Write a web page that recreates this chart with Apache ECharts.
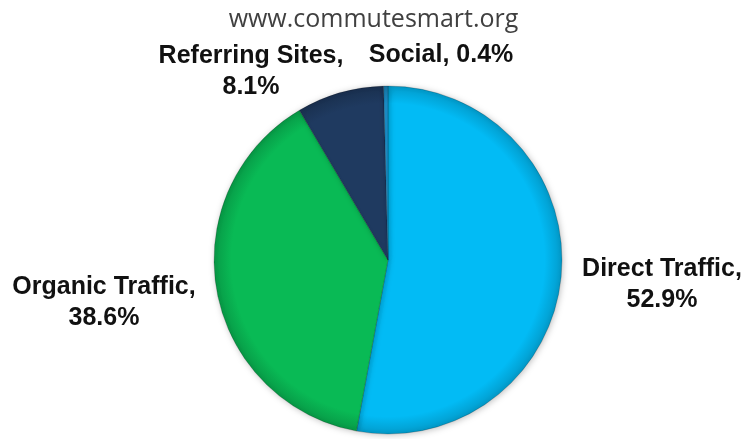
<!DOCTYPE html>
<html>
<head>
<meta charset="utf-8">
<script src="https://cdn.jsdelivr.net/npm/echarts@6/dist/echarts.min.js"></script>
<style>
  html, body { margin: 0; padding: 0; background: #fff; }
  #chart { width: 747px; height: 439px; }
</style>
</head>
<body>
<div id="chart"></div>
<script>
const categories = ['Direct Traffic', 'Organic Traffic', 'Referring Sites', 'Social'];
const shares = [52.9, 38.6, 8.1, 0.4];
const colors = ['#02BBF5', '#09BA55', '#1F3A60', '#1B8CC4'];

// label anchor for each slice (x, y in px, centre of text block)
const labelSpots = [
  { x: 662, y: 285 },
  { x: 104, y: 303 },
  { x: 251, y: 72 },
  { x: 441, y: 55 }
];

const cx = 388, cy = 260, r = 174;

// darken a hex colour a bit for the rim
const shade = (hex, f) => {
  const n = parseInt(hex.slice(1), 16);
  const c = [(n >> 16) & 255, (n >> 8) & 255, n & 255].map(v => Math.round(v * f));
  return 'rgb(' + c.join(',') + ')';
};

const chart = echarts.init(document.getElementById('chart'));

chart.setOption({
  title: {
    text: 'www.commutesmart.org',
    left: 'center',
    top: 2,
    textStyle: {
      fontFamily: 'Open Sans',
      fontWeight: 'normal',
      fontSize: 25,
      color: '#404040'
    }
  },
  series: [{
    type: 'pie',
    center: [cx, cy],
    radius: r,
    startAngle: 90,
    clockwise: true,
    silent: true,
    animation: false,
    itemStyle: {
      borderColor: 'rgba(0,0,0,0.18)',
      borderWidth: 1,
      shadowBlur: 6,
      shadowColor: 'rgba(0,0,0,0.25)',
      shadowOffsetX: 1,
      shadowOffsetY: 1
    },
    labelLine: { show: false },
    label: {
      show: true,
      position: 'outside',
      fontFamily: 'Liberation Sans',
      fontWeight: 'bold',
      fontSize: 25,
      lineHeight: 31,
      color: '#111',
      align: 'center',
      overflow: 'none',
      width: 300,
      formatter: p => p.name === 'Social'
        ? p.name + ', ' + p.value.toFixed(1) + '%'
        : p.name + ',\n' + p.value.toFixed(1) + '%'
    },
    labelLayout: p => ({
      x: labelSpots[p.dataIndex].x,
      y: labelSpots[p.dataIndex].y,
      align: 'center',
      verticalAlign: 'middle',
      hideOverlap: false,
      moveOverlap: null
    }),
    data: categories.map((name, i) => ({
      name: name,
      value: shares[i],
      itemStyle: {
        color: new echarts.graphic.RadialGradient(cx, cy, r, [
          { offset: 0, color: colors[i] },
          { offset: 0.9, color: colors[i] },
          { offset: 0.97, color: shade(colors[i], 0.88) },
          { offset: 1, color: shade(colors[i], 0.8) }
        ], true)
      }
    }))
  }]
});
</script>
</body>
</html>
